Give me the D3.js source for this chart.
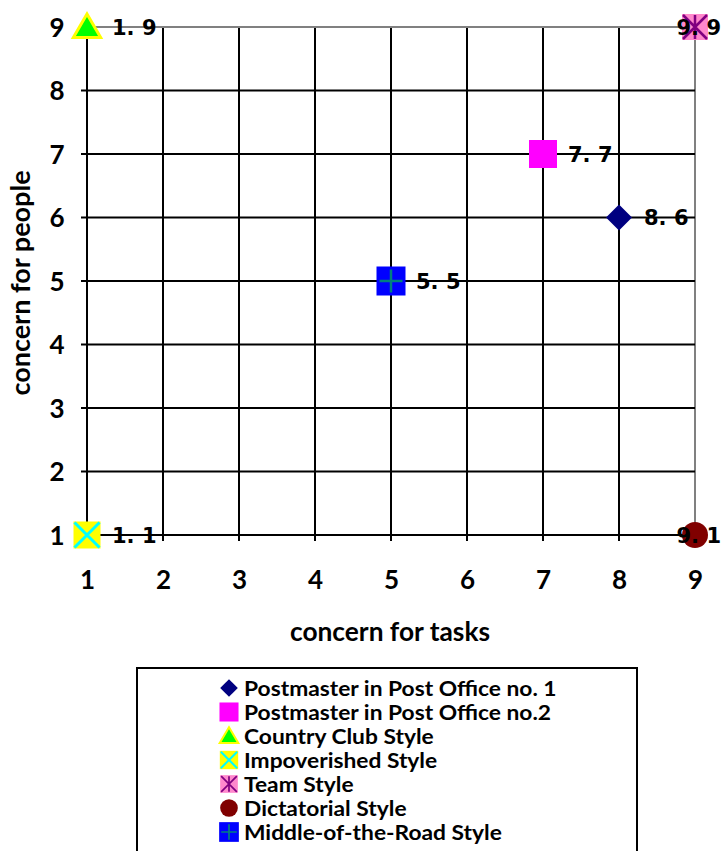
<!DOCTYPE html>
<html><head><meta charset="utf-8">
<script src="https://cdn.jsdelivr.net/npm/d3@7"></script>
<style>body{margin:0;background:#fff}svg{display:block}</style>
</head><body>
<script>
const seriesNames = ["Postmaster in Post Office no. 1","Postmaster in Post Office no.2","Country Club Style","Impoverished Style","Team Style","Dictatorial Style","Middle-of-the-Road Style"];
const xValues = [8,7,1,1,9,9,5];
const yValues = [6,7,9,1,9,1,5];
const pointLabels = ["8. 6","7. 7","1. 9","1. 1","9. 9","9. 1","5. 5"];
const markerTypes = ["diamond","square","triangle","xbox","star","circle","plus"];
const xTicks = [1,2,3,4,5,6,7,8,9];
const yTicks = [1,2,3,4,5,6,7,8,9];
const xTitle = "concern for tasks", yTitle = "concern for people";

const W=722,H=851;
const svg=d3.select("body").append("svg").attr("width",W).attr("height",H);
const x=d3.scaleLinear().domain([1,9]).range([87,695]);
const y=d3.scaleLinear().domain([1,9]).range([535,27]);
const font="Lato, 'Open Sans', sans-serif";

// grid
const g=svg.append("g");
xTicks.forEach(t=>{
  g.append("line").attr("x1",x(t)).attr("x2",x(t)).attr("y1",y(9)).attr("y2",y(1)+6)
   .attr("stroke",t===9?"#808080":"#000").attr("stroke-width",2);
});
yTicks.forEach(t=>{
  g.append("line").attr("x1",x(1)-6).attr("x2",x(9)).attr("y1",y(t)).attr("y2",y(t))
   .attr("stroke",t===9?"#808080":"#000").attr("stroke-width",2);
});
g.append("line").attr("x1",x(1)).attr("x2",x(1)).attr("y1",y(9)).attr("y2",y(1)+6).attr("stroke","#000").attr("stroke-width",2);
g.append("line").attr("x1",x(1)-6).attr("x2",x(9)).attr("y1",y(1)).attr("y2",y(1)).attr("stroke","#000").attr("stroke-width",2);

// tick labels
const xa=d3.axisBottom(x).tickValues(xTicks).tickSize(0).tickPadding(0).tickFormat(d3.format("d"));
const xg=svg.append("g").attr("transform",`translate(0,${y(1)+45})`).call(xa);
xg.select(".domain").remove();
xg.selectAll("text").attr("font-family",font).attr("font-size",26).attr("font-weight","bold").attr("fill","#000").attr("dy","0.36em");
const ya=d3.axisLeft(y).tickValues(yTicks).tickSize(0).tickPadding(0).tickFormat(d3.format("d"));
const yg=svg.append("g").attr("transform",`translate(${x(1)-30},0)`).call(ya);
yg.select(".domain").remove();
yg.selectAll("text").attr("font-family",font).attr("font-size",26).attr("font-weight","bold").attr("fill","#000").attr("dy","0.36em").attr("text-anchor","middle");

svg.append("text").attr("x",(x(1)+x(9))/2-1).attr("y",633).attr("text-anchor","middle").attr("dy","0.3em")
  .attr("font-family",font).attr("font-size",26.3).attr("font-weight","bold").text(xTitle);
svg.append("text").attr("transform",`translate(22,${(y(1)+y(9))/2+2}) rotate(-90)`).attr("text-anchor","middle").attr("dy","0.3em")
  .attr("font-family",font).attr("font-size",27).attr("font-weight","bold").text(yTitle);

function marker(sel,type,s){
  if(type==="diamond"){
    const r=13*s; sel.append("path").attr("d",`M0,${-r}L${r},0L0,${r}L${-r},0Z`).attr("fill","#000080");
  } else if(type==="square"){
    const r=14*s; sel.append("rect").attr("x",-r).attr("y",-r).attr("width",2*r).attr("height",2*r).attr("fill","#ff00ff");
  } else if(type==="triangle"){
    const r=13*s; sel.append("path").attr("d",`M0,${-r}L${r*1.05},${r*0.8}L${-r*1.05},${r*0.8}Z`).attr("fill","#00ff00").attr("stroke","#ffff00").attr("stroke-width",3*s).attr("stroke-linejoin","miter");
  } else if(type==="xbox"){
    const r=13.5*s; sel.append("rect").attr("x",-r).attr("y",-r).attr("width",2*r).attr("height",2*r).attr("fill","#ffff00");
    const q=r-1;
    sel.append("path").attr("d",`M${-q},${-q}L${q},${q}M${q},${-q}L${-q},${q}`).attr("stroke","#00ffff").attr("stroke-width",3*s);
  } else if(type==="star"){
    const r=13*s; sel.append("rect").attr("x",-r).attr("y",-r).attr("width",2*r).attr("height",2*r).attr("fill","#ff88cc");
    const q=r-1;
    sel.append("path").attr("d",`M${-q},${-q}L${q},${q}M${q},${-q}L${-q},${q}M0,${-q}L0,${q}`).attr("stroke","#800080").attr("stroke-width",2.5*s);
  } else if(type==="circle"){
    sel.append("circle").attr("r",13*s).attr("fill","#800000");
  } else if(type==="plus"){
    const r=14.5*s; sel.append("rect").attr("x",-r).attr("y",-r).attr("width",2*r).attr("height",2*r).attr("fill","#0000ff");
    const q=r-3*s;
    sel.append("path").attr("d",`M${-q},0L${q},0M0,${-q}L0,${q}`).attr("stroke","#008080").attr("stroke-width",2.5*s);
  }
}

const pts=svg.append("g");
seriesNames.forEach((n,i)=>{
  const m=pts.append("g").attr("transform",`translate(${x(xValues[i])},${y(yValues[i])})`);
  marker(m,markerTypes[i],1);
});
seriesNames.forEach((n,i)=>{
  const t=svg.append("text").attr("x",x(xValues[i])+25).attr("y",y(yValues[i])).attr("dy","0.36em")
    .attr("font-family","'DejaVu Sans', sans-serif").attr("font-size",21).attr("font-weight","bold").attr("fill","#000").text(pointLabels[i]);
  const w=t.node().getComputedTextLength();
  if(x(xValues[i])+25+w>W-1){ t.attr("x",W-1-w); }
});

// legend
svg.append("rect").attr("x",137).attr("y",668).attr("width",500).attr("height",200).attr("fill","#fff").attr("stroke","#000").attr("stroke-width",2);
const lg=svg.append("g");
seriesNames.forEach((n,i)=>{
  const cy=688+i*24;
  const m=lg.append("g").attr("transform",`translate(229,${cy})`);
  marker(m,markerTypes[i],0.68);
  lg.append("text").attr("transform",`translate(244,${cy}) scale(1.06,1)`).attr("dy","0.36em")
    .attr("font-family",font).attr("font-size",21.5).attr("font-weight","bold").text(n);
});
</script>
</body></html>
